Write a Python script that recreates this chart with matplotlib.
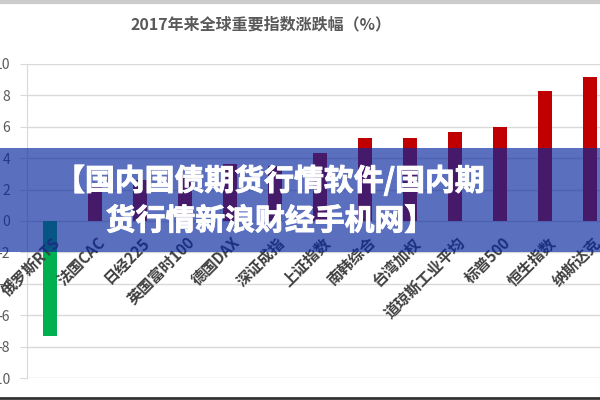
import matplotlib
matplotlib.use("Agg")
import matplotlib.pyplot as plt
from matplotlib.patches import Rectangle
from matplotlib.lines import Line2D
import matplotlib.patheffects as pe

plt.rcParams['font.family'] = ['Noto Sans CJK SC', 'DejaVu Sans']

categories = ["俄罗斯RTS", "法国CAC", "日经225", "英国富时100", "德国DAX", "深证成指",
              "上证指数", "南韩综合", "台湾加权", "道琼斯工业平均", "标普500", "恒生指数", "纳斯达克"]
values = [-7.3, 2.4, 2.6, 2.9, 3.65, 3.5, 4.35, 5.3, 5.27, 5.65, 6.0, 8.28, 9.15]
yticks = [-10, -8, -6, -4, -2, 0, 2, 4, 6, 8, 10]
title = "2017年来全球重要指数涨跌幅（%）"
banner_lines = ["【国内国债期货行情软件/国内期", "货行情新浪财经手机网】"]

fig = plt.figure(figsize=(6, 4), dpi=100)
ax = fig.add_axes([0.045, 0.055, 0.976, 0.785])

colors = ["#00B050" if v < 0 else "#C00000" for v in values]
x = list(range(len(categories)))
ax.bar(x, values, width=0.31, color=colors, zorder=3)

ax.set_xlim(-0.5, len(categories) - 0.5)
ax.set_ylim(-10, 10)
ax.set_yticks(yticks)
ax.set_yticklabels([str(t) for t in yticks], fontsize=10, color="#595959")
ax.yaxis.grid(True, color="#d9d9d9", linewidth=1, zorder=0)
ax.set_axisbelow(True)
for s in ["top", "right", "bottom"]:
    ax.spines[s].set_visible(False)
ax.spines["left"].set_color("#d9d9d9")
ax.tick_params(axis="y", length=5, color="#d9d9d9", pad=7)
ax.set_xticks([])

for i, c in enumerate(categories):
    ax.text(i + 0.05, -0.85, c, rotation=45, rotation_mode="anchor", ha="right", va="top",
            fontsize=11, fontweight="bold", color="#404040", zorder=4)

fig.text(0.435, 0.938, title, ha="center", va="center", fontsize=11.5,
         fontweight="bold", color="#595959")

# banner overlay
fig.add_artist(Rectangle((0, 1 - 252 / 400), 1, 104 / 400, transform=fig.transFigure,
                         facecolor=(10 / 255, 40 / 255, 160 / 255), alpha=0.67,
                         edgecolor="none", zorder=10))
for k, line in enumerate(banner_lines):
    fig.text(0.45, 1 - (181 + 40 * k) / 400, line, ha="center", va="center", fontsize=21.5,
             fontweight="bold", color="white", zorder=11,
             path_effects=[pe.withStroke(linewidth=0.7, foreground="white")])

# frame lines
fig.add_artist(Line2D([0, 1], [0.996, 0.996], transform=fig.transFigure, color="#cccccc", linewidth=3))
fig.add_artist(Line2D([0, 1], [0.004, 0.004], transform=fig.transFigure, color="#333333", linewidth=2))

fig.savefig("out.png", dpi=100)
